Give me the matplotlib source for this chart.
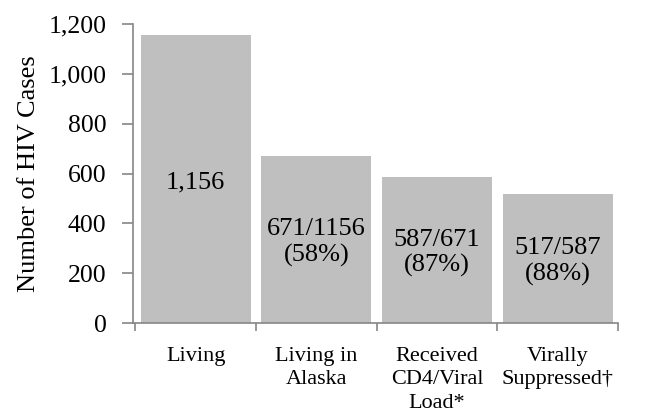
import numpy as np
import matplotlib.pyplot as plt

categories = ['Living', 'Living in\nAlaska', 'Received\nCD4/Viral\nLoad*', 'Virally\nSuppressed\u2020']
values = [1156, 671, 587, 517]
bar_labels = ['1,156', '671/1156\n(58%)', '587/671\n(87%)', '517/587\n(88%)']
yticks = [0, 200, 400, 600, 800, 1000, 1200]

plt.rcParams['font.family'] = ['Liberation Serif', 'DejaVu Serif']

fig = plt.figure(figsize=(6.71, 4.17), dpi=100)
ax = fig.add_axes([133 / 671, (417 - 323) / 417, (618 - 133) / 671, (323 - 24) / 417])

x = np.arange(len(categories))
ax.bar(x, values, width=0.91, color='#BFBFBF', zorder=2)

for xi, v, lab in zip(x, values, bar_labels):
    ax.text(xi, v / 2 - 12, lab, ha='center', va='center', fontsize=19,
            linespacing=1.2, color='black')

ax.set_xlim(-0.52, 3.5)
ax.set_ylim(0, 1200)
ax.set_yticks(yticks)
ax.set_yticklabels([f'{t:,}' for t in yticks], fontsize=18.5)
ax.set_xticks(x)
ax.set_xticklabels(categories, fontsize=16, linespacing=1.34, va='top')
ax.set_xticks(np.arange(-0.5, len(categories), 1), minor=True)
ax.tick_params(axis='x', which='major', length=0, pad=17)
ax.tick_params(axis='x', which='minor', length=6, color='#868686', width=1.2)
ax.tick_params(axis='y', length=8, color='#868686', width=1.2, pad=11)

for side in ['top', 'right']:
    ax.spines[side].set_visible(False)
for side in ['left', 'bottom']:
    ax.spines[side].set_color('#868686')
    ax.spines[side].set_linewidth(1.2)

ax.set_ylabel('Number of HIV Cases', fontsize=19, labelpad=6)

fig.savefig('out.png', dpi=100)
